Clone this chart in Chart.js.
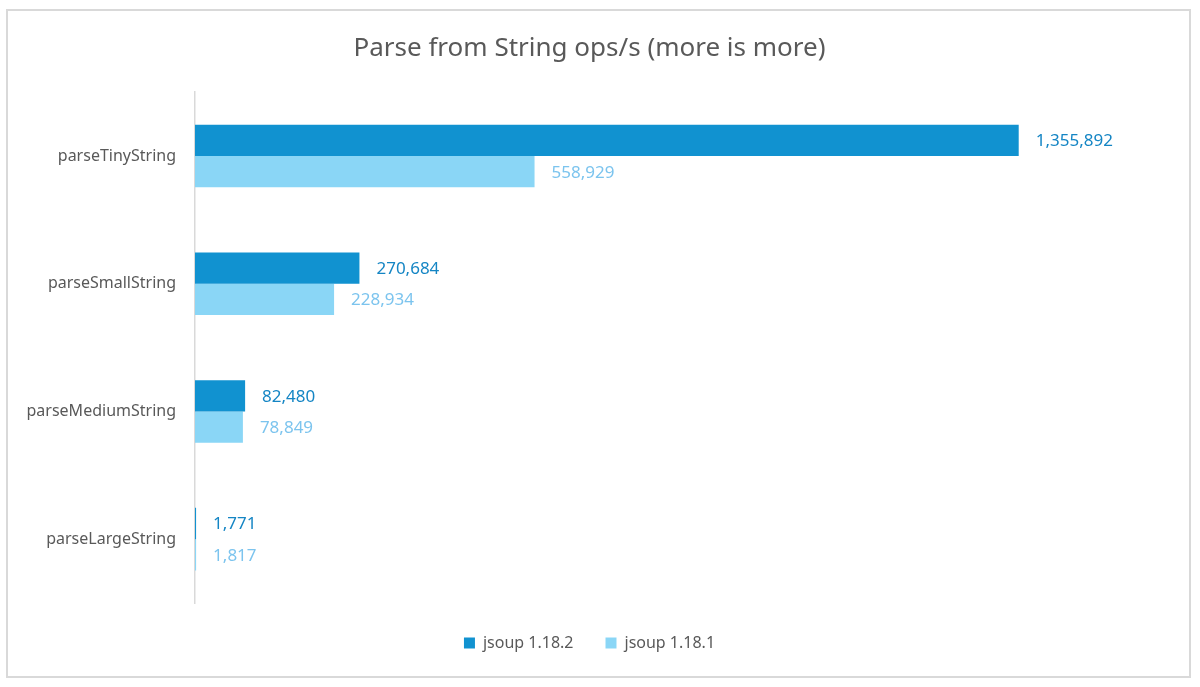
<!DOCTYPE html>
<html>
<head>
<meta charset="utf-8">
<script src="https://cdn.jsdelivr.net/npm/chart.js@4.4.0/dist/chart.umd.min.js"></script>
<style>
  html, body { margin: 0; padding: 0; background: #fff; }
  #wrap { position: relative; width: 1200px; height: 687px; }
</style>
</head>
<body>
<div id="wrap"><canvas id="chart" width="1200" height="687"></canvas></div>
<script>
const categories = ['parseTinyString', 'parseSmallString', 'parseMediumString', 'parseLargeString'];
const seriesNames = ['jsoup 1.18.2', 'jsoup 1.18.1'];
const v1182 = [1355892, 270684, 82480, 1771];
const v1181 = [558929, 228934, 78849, 1817];

const darkBlue = '#1192d0';
const lightBlue = '#8ad6f6';
const darkLabel = '#1485c4';
const lightLabel = '#7cc4ee';
const textGray = '#595959';
const fontFam = '"Noto Sans", "Open Sans", sans-serif';

// outer frame around the whole chart
const framePlugin = {
  id: 'frame',
  beforeDraw(chart) {
    const c = chart.ctx;
    c.save();
    c.fillStyle = '#fff';
    c.fillRect(0, 0, chart.width, chart.height);
    c.strokeStyle = '#d9d9d9';
    c.lineWidth = 2;
    c.strokeRect(7, 10, 1183, 667);
    c.restore();
  }
};

// value labels at the end of each bar
const valueLabels = {
  id: 'valueLabels',
  afterDatasetsDraw(chart) {
    const c = chart.ctx;
    c.save();
    c.font = '17px ' + fontFam;
    c.textBaseline = 'middle';
    c.textAlign = 'left';
    chart.data.datasets.forEach((ds, i) => {
      const meta = chart.getDatasetMeta(i);
      c.fillStyle = i === 0 ? darkLabel : lightLabel;
      meta.data.forEach((bar, j) => {
        c.fillText(ds.data[j].toLocaleString('en-US'), bar.x + 17, bar.y + 1);
      });
    });
    c.restore();
  }
};

new Chart(document.getElementById('chart'), {
  type: 'bar',
  data: {
    labels: categories,
    datasets: [
      { label: seriesNames[0], data: v1182, backgroundColor: darkBlue },
      { label: seriesNames[1], data: v1181, backgroundColor: lightBlue }
    ]
  },
  options: {
    indexAxis: 'y',
    responsive: false,
    animation: false,
    devicePixelRatio: 1,
    layout: { padding: { left: 12, right: 33, top: 0, bottom: 26 } },
    datasets: { bar: { categoryPercentage: 0.49, barPercentage: 1.0 } },
    scales: {
      x: { display: false, min: 0, max: 1600000 },
      y: {
        grid: { display: false, drawTicks: false },
        border: { display: true, color: '#d9d9d9', width: 1.5 },
        ticks: { color: textGray, font: { size: 16, family: fontFam }, padding: 19 },
        afterFit(scale) { scale.width = 183; }
      }
    },
    plugins: {
      title: {
        display: true,
        text: 'Parse from String ops/s (more is more)',
        color: textGray,
        font: { size: 26, family: fontFam, weight: 'normal' },
        padding: { top: 33, bottom: 28 }
      },
      legend: {
        position: 'bottom',
        labels: {
          color: textGray,
          font: { size: 16, family: fontFam },
          boxWidth: 11,
          boxHeight: 11,
          padding: 32
        }
      },
      tooltip: { enabled: false }
    }
  },
  plugins: [framePlugin, valueLabels]
});
</script>
</body>
</html>
